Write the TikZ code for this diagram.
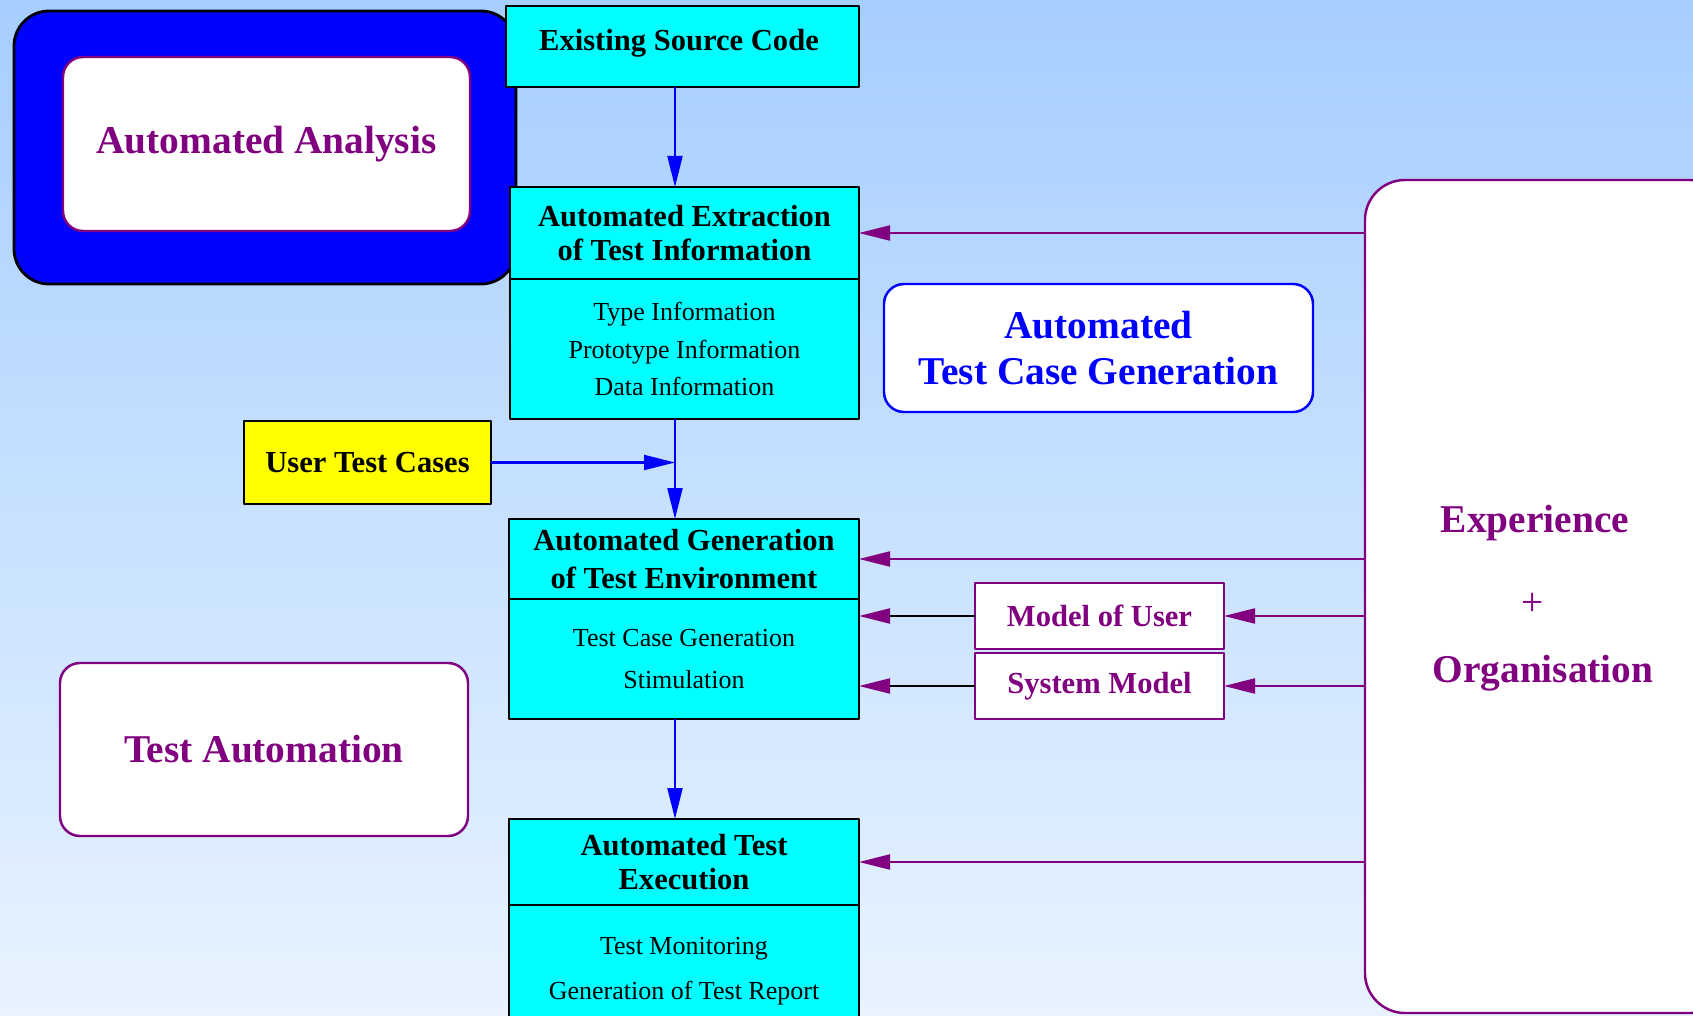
\documentclass[tikz,border=0pt]{standalone}
\usepackage{fontspec}
\setmainfont{Liberation Serif}
\usetikzlibrary{arrows.meta}
\definecolor{fpurple}{RGB}{128,0,128}
\definecolor{fcyan}{RGB}{0,255,255}
\definecolor{fyellow}{RGB}{255,255,0}
\definecolor{fblue}{RGB}{0,0,255}
\definecolor{bgtop}{RGB}{166,206,255}
\definecolor{bgbot}{RGB}{232,243,255}
\begin{document}
\begin{tikzpicture}[line join=round,
  box/.style={draw=black, line width=0.75pt, fill=fcyan, inner sep=0pt, outer sep=0pt},
  big/.style={font=\fontsize{11.2}{13.1}\selectfont\bfseries, align=center},
  head/.style={font=\fontsize{8.7}{9.7}\selectfont\bfseries, align=center},
  item/.style={font=\fontsize{7.4}{10.7}\selectfont, align=center},
  pbox/.style={draw=fpurple, line width=0.7pt, fill=white, rounded corners=0.2cm, inner sep=0pt, outer sep=0pt},
  ar/.style={-{Triangle[length=0.31cm,width=0.15cm]}, line width=0.6pt}]
\clip (0,0) rectangle (16.93,10.15);
\shade[top color=bgtop, bottom color=bgbot] (0,0) rectangle (16.93,10.15);
% left column
\node[draw=black, line width=0.8pt, fill=fblue, rounded corners=0.35cm, minimum width=5.02cm, minimum height=2.73cm] (ana) at (2.65,8.675) {};
\node[pbox, minimum width=4.07cm, minimum height=1.74cm, text=fpurple, big] (anain) at (2.665,8.71) {Automated Analysis};
\node[pbox, minimum width=4.08cm, minimum height=1.73cm, text=fpurple, big] (auto) at (2.64,2.655) {Test Automation};
\node[draw=black, line width=0.75pt, fill=fyellow, outer sep=0pt, minimum width=2.47cm, minimum height=0.83cm, head] (utc) at (3.675,5.525) {User Test Cases};
% center column
\node[box, minimum width=3.53cm, minimum height=0.81cm] (src) at (6.825,9.685) {};
\node[head] (srct) at (6.79,9.72) {Existing Source Code};
\node[box, minimum width=3.49cm, minimum height=0.92cm, head] (extT) at (6.845,7.82) {Automated Extraction\\of Test Information};
\node[box, minimum width=3.49cm, minimum height=1.40cm, item, anchor=north] (extB) at (extT.south) {Type Information\\Prototype Information\\Data Information};
\node[box, minimum width=3.50cm, minimum height=0.80cm, head, font=\fontsize{8.7}{10.8}\selectfont\bfseries] (genT) at (6.84,4.56) {Automated Generation\\of Test Environment};
\node[box, minimum width=3.50cm, minimum height=1.20cm, item, font=\fontsize{7.4}{11.9}\selectfont, anchor=north] (genB) at (genT.south) {Test Case Generation\\Stimulation};
\node[box, minimum width=3.50cm, minimum height=0.86cm, head] (exeT) at (6.84,1.53) {Automated Test\\Execution};
\node[box, minimum width=3.50cm, minimum height=1.33cm, item, font=\fontsize{7.4}{12.8}\selectfont, anchor=north] (exeB) at (exeT.south) {Test Monitoring\\Generation of Test Report};
% right side
\node[draw=fblue, line width=0.7pt, fill=white, rounded corners=0.2cm, outer sep=0pt, minimum width=4.29cm, minimum height=1.28cm, text=fblue, big] (tcg) at (10.985,6.67) {Automated\\Test Case Generation};
\node[draw=fpurple, line width=0.7pt, fill=white, outer sep=0pt, minimum width=2.49cm, minimum height=0.66cm, text=fpurple, head] (usr) at (10.995,3.99) {Model of User};
\node[draw=fpurple, line width=0.7pt, fill=white, outer sep=0pt, minimum width=2.49cm, minimum height=0.66cm, text=fpurple, head] (sys) at (10.995,3.29) {System Model};
\node[pbox, rounded corners=0.4cm, minimum width=3.65cm, minimum height=8.33cm] (exp) at (15.475,4.185) {};
\node[text=fpurple, big, anchor=base] (exp1) at (15.35,4.82) {Experience};
\node[text=fpurple, font=\fontsize{11.2}{13}\selectfont, anchor=base] (exp2) at (15.33,4.00) {+};
\node[text=fpurple, big, anchor=base] (exp3) at (15.43,3.33) {Organisation};
% connectors
\coordinate (j) at (6.75,5.525);
\draw[ar, fblue] (src.south -| j) -- (extT.north -| j);
\draw[ar, fblue] (utc.east) -- (j);
\draw[ar, fblue] (extB.south -| j) -- (genT.north -| j);
\draw[ar, fblue] (genB.south -| j) -- (exeT.north -| j);
\draw[ar, fpurple] (exp.west |- extT.east) -- (extT.east);
\draw[ar, fpurple] (exp.west |- genT.east) -- (genT.east);
\draw[ar, fpurple] (exp.west |- exeT.east) -- (exeT.east);
\draw[ar, fpurple] (exp.west |- usr.east) -- (usr.east);
\draw[ar, fpurple] (exp.west |- sys.east) -- (sys.east);
\draw[line width=0.6pt, -{Triangle[length=0.31cm,width=0.15cm,color=fpurple]}] (usr.west) -- (usr.west -| genB.east);
\draw[line width=0.6pt, -{Triangle[length=0.31cm,width=0.15cm,color=fpurple]}] (sys.west) -- (sys.west -| genB.east);
\end{tikzpicture}
\end{document}
